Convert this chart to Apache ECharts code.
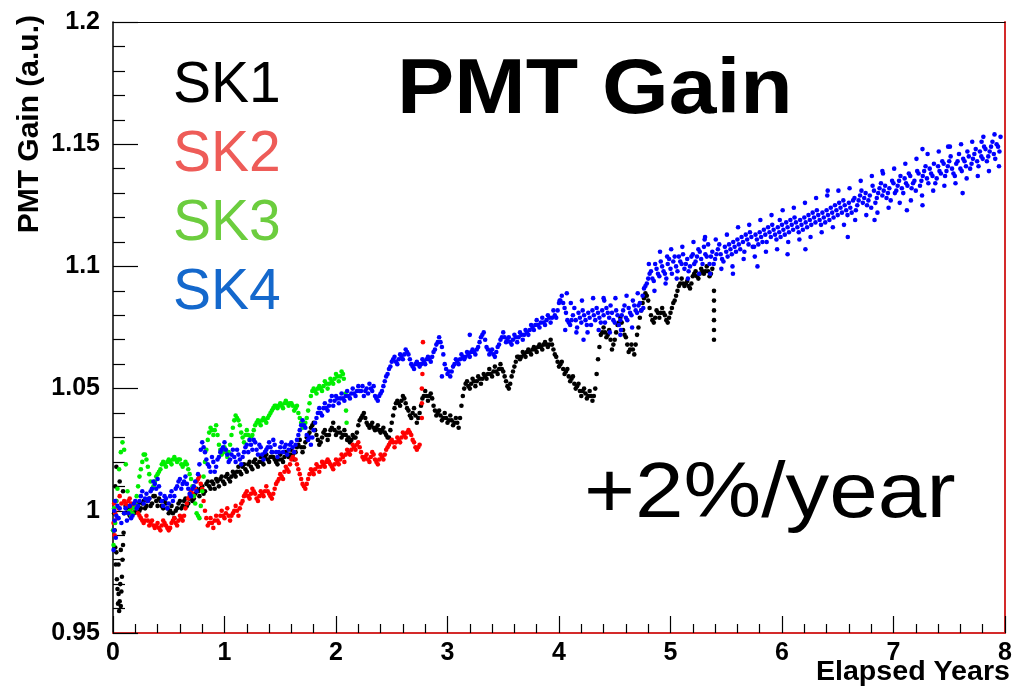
<!DOCTYPE html>
<html>
<head>
<meta charset="utf-8">
<script src="https://cdn.jsdelivr.net/npm/echarts@6/dist/echarts.min.js"></script>
<style>html,body{margin:0;padding:0;background:#fff}#c{width:1017px;height:695px}</style>
</head>
<body>
<div id="c"></div>
<script>
// ---- data (x = elapsed years, y = relative PMT gain) ----
const seriesNames = ['SK1', 'SK2', 'SK3', 'SK4'];
const yTickLabels = ['0.95', '1', '1.05', '1.1', '1.15', '1.2'];
const xTickLabels = ['0', '1', '2', '3', '4', '5', '6', '7', '8'];

const sk1 = [
[0.010,0.999],[0.015,0.992],[0.020,0.985],[0.025,0.978],[0.030,0.983],[0.035,0.972],[0.040,0.968],[0.045,0.962],[0.050,0.966],[0.055,0.959],[0.060,0.963],[0.065,0.970],[0.070,0.961],[0.075,0.967],[0.080,0.973],[0.085,0.980],[0.090,0.986],[0.095,0.991],[0.030,1.018],[0.060,1.012],[0.090,1.008],[0.020,1.010],[0.050,0.978],[0.070,0.984],
[0.100,0.999],[0.125,1.001],[0.150,0.998],[0.175,1.002],[0.200,1.000],[0.225,1.003],[0.250,1.001],[0.275,1.004],[0.300,1.002],[0.325,1.005],[0.350,1.003],[0.375,1.006],[0.400,1.002],[0.425,1.004],[0.450,1.001],[0.475,1.003],[0.500,0.999],[0.525,1.002],[0.550,0.997],[0.575,1.001],[0.600,1.004],[0.625,1.002],[0.650,1.005],[0.675,1.003],[0.700,1.007],[0.725,1.005],[0.750,1.009],[0.775,1.006],[0.800,1.010],[0.825,1.008],[0.850,1.012],[0.875,1.009],[0.900,1.011],[0.925,1.013],[0.950,1.010],[0.975,1.014],
[1.000,1.011],[1.025,1.015],[1.050,1.012],[1.075,1.016],[1.100,1.014],[1.125,1.018],[1.150,1.015],[1.175,1.019],[1.200,1.016],[1.225,1.020],[1.250,1.017],[1.275,1.021],[1.300,1.018],[1.325,1.022],[1.350,1.019],[1.375,1.023],[1.400,1.020],[1.425,1.024],[1.450,1.021],[1.475,1.019],[1.500,1.023],[1.525,1.020],[1.550,1.024],[1.575,1.022],[1.600,1.025],[1.625,1.021],[1.650,1.026],[1.675,1.029],[1.700,1.024],[1.725,1.028],[1.750,1.031],[1.775,1.034],[1.800,1.036],[1.825,1.031],[1.850,1.027],[1.875,1.030],[1.900,1.033],[1.925,1.029],[1.950,1.033],[1.975,1.036],
[2.000,1.031],[2.025,1.034],[2.050,1.030],[2.075,1.033],[2.100,1.029],[2.125,1.028],[2.150,1.031],[2.175,1.030],[2.200,1.035],[2.225,1.038],[2.250,1.040],[2.275,1.036],[2.300,1.034],[2.325,1.036],[2.350,1.033],[2.375,1.035],[2.400,1.032],[2.425,1.034],[2.450,1.031],[2.475,1.030],[2.500,1.036],[2.525,1.042],[2.550,1.045],[2.575,1.043],[2.600,1.047],[2.625,1.044],[2.650,1.041],[2.675,1.038],[2.700,1.042],[2.725,1.036],[2.750,1.040],[2.775,1.046],[2.800,1.049],[2.825,1.045],[2.850,1.048],[2.875,1.043],[2.900,1.039],[2.925,1.041],[2.950,1.037],[2.975,1.040],
[3.000,1.036],[3.025,1.039],[3.050,1.035],[3.075,1.038],[3.100,1.034],[3.125,1.043],[3.150,1.050],[3.175,1.053],[3.200,1.050],[3.225,1.054],[3.250,1.051],[3.275,1.055],[3.300,1.052],[3.325,1.056],[3.350,1.054],[3.375,1.058],[3.400,1.055],[3.425,1.059],[3.450,1.056],[3.475,1.060],[3.500,1.057],[3.525,1.053],[3.550,1.050],[3.575,1.055],[3.600,1.059],[3.625,1.063],[3.650,1.062],[3.675,1.065],[3.700,1.063],[3.725,1.066],[3.750,1.064],[3.775,1.067],[3.800,1.065],[3.825,1.068],[3.850,1.066],[3.875,1.069],[3.900,1.067],[3.925,1.070],[3.950,1.066],[3.975,1.063],
[4.000,1.059],[4.025,1.061],[4.050,1.056],[4.075,1.058],[4.100,1.053],[4.125,1.055],[4.150,1.050],[4.175,1.052],[4.200,1.047],[4.225,1.050],[4.250,1.046],[4.275,1.049],[4.300,1.045],[4.325,1.050],[4.350,1.062],[4.375,1.072],[4.400,1.075],[4.425,1.071],[4.450,1.074],[4.475,1.066],[4.500,1.070],[4.525,1.076],[4.550,1.079],[4.575,1.074],[4.600,1.071],[4.625,1.065],[4.650,1.068],[4.675,1.064],[4.700,1.072],[4.725,1.079],[4.750,1.085],[4.775,1.089],[4.800,1.086],[4.825,1.080],[4.850,1.077],[4.875,1.082],[4.900,1.079],[4.925,1.083],[4.950,1.080],[4.975,1.077],
[5.000,1.081],[5.025,1.085],[5.050,1.088],[5.075,1.092],[5.100,1.095],[5.125,1.092],[5.150,1.094],[5.175,1.091],[5.200,1.096],[5.225,1.098],[5.250,1.095],[5.275,1.099],[5.300,1.097],[5.325,1.100],[5.350,1.096],[5.375,1.099],
[5.390,1.090],[5.390,1.086],[5.390,1.082],[5.390,1.078],[5.390,1.074],[5.390,1.070]
];
const sk1b = [
[0.1125,1.002],[0.1375,0.999],[0.1625,1.001],[0.1875,0.999],[0.2125,1.002],[0.2375,1.000],[0.2625,1.003],[0.2875,1.001],[0.3125,1.004],[0.3375,1.002],[0.3625,1.006],[0.3875,1.004],[0.4125,1.005],[0.4375,1.002],[0.4625,1.004],[0.4875,1.001],[0.5125,1.000],[0.5375,0.999],[0.5625,1.000],[0.5875,1.003],[0.6125,1.001],[0.6375,1.004],[0.6625,1.002],[0.6875,1.005],[0.7125,1.004],[0.7375,1.007],[0.7625,1.008],[0.7875,1.009],[0.8125,1.007],[0.8375,1.011],[0.8625,1.010],[0.8875,1.012],[0.9125,1.009],[0.9375,1.012],[0.9625,1.013],[0.9875,1.012],
[1.0125,1.014],[1.0375,1.013],[1.0625,1.014],[1.0875,1.015],[1.1125,1.016],[1.1375,1.016],[1.1625,1.018],[1.1875,1.017],[1.2125,1.019],[1.2375,1.018],[1.2625,1.020],[1.2875,1.019],[1.3125,1.020],[1.3375,1.020],[1.3625,1.022],[1.3875,1.021],[1.4125,1.022],[1.4375,1.022],[1.4625,1.020],[1.4875,1.021],[1.5125,1.021],[1.5375,1.022],[1.5625,1.023],[1.5875,1.023],[1.6125,1.023],[1.6375,1.024],[1.6625,1.027],[1.6875,1.026],[1.7125,1.026],[1.7375,1.030],[1.7625,1.032],[1.7875,1.035],[1.8125,1.033],[1.8375,1.029],[1.8625,1.028],[1.8875,1.032],[1.9125,1.031],[1.9375,1.031],[1.9625,1.034],[1.9875,1.033],
[2.0125,1.032],[2.0375,1.032],[2.0625,1.031],[2.0875,1.031],[2.1125,1.030],[2.1375,1.029],[2.1625,1.030],[2.1875,1.032],[2.2125,1.037],[2.2375,1.039],[2.2625,1.038],[2.2875,1.035],[2.3125,1.035],[2.3375,1.034],[2.3625,1.034],[2.3875,1.033],[2.4125,1.033],[2.4375,1.032],[2.4625,1.030],[2.4875,1.033],[2.5125,1.039],[2.5375,1.044],[2.5625,1.044],[2.5875,1.045],[2.6125,1.046],[2.6375,1.042],[2.6625,1.039],[2.6875,1.040],[2.7125,1.039],[2.7375,1.038],[2.7625,1.043],[2.7875,1.047],[2.8125,1.047],[2.8375,1.047],[2.8625,1.046],[2.8875,1.041],[2.9125,1.040],[2.9375,1.039],[2.9625,1.038],[2.9875,1.038],
[3.0125,1.037],[3.0375,1.037],[3.0625,1.036],[3.0875,1.036],[3.1125,1.038],[3.1375,1.047],[3.1625,1.052],[3.1875,1.051],[3.2125,1.052],[3.2375,1.053],[3.2625,1.053],[3.2875,1.054],[3.3125,1.054],[3.3375,1.055],[3.3625,1.056],[3.3875,1.056],[3.4125,1.057],[3.4375,1.057],[3.4625,1.058],[3.4875,1.058],[3.5125,1.055],[3.5375,1.051],[3.5625,1.052],[3.5875,1.057],[3.6125,1.061],[3.6375,1.063],[3.6625,1.063],[3.6875,1.064],[3.7125,1.065],[3.7375,1.065],[3.7625,1.066],[3.7875,1.066],[3.8125,1.067],[3.8375,1.067],[3.8625,1.068],[3.8875,1.068],[3.9125,1.068],[3.9375,1.068],[3.9625,1.064],[3.9875,1.061],
[4.0125,1.060],[4.0375,1.058],[4.0625,1.057],[4.0875,1.055],[4.1125,1.054],[4.1375,1.052],[4.1625,1.051],[4.1875,1.049],[4.2125,1.049],[4.2375,1.048],[4.2625,1.047],[4.2875,1.047],[4.3125,1.047],[4.3375,1.056],[4.3625,1.067],[4.3875,1.073],[4.4125,1.073],[4.4375,1.072],[4.4625,1.070],[4.4875,1.068],[4.5125,1.073],[4.5375,1.077],[4.5625,1.077],[4.5875,1.072],[4.6125,1.068],[4.6375,1.066],[4.6625,1.066],[4.6875,1.068],[4.7125,1.075],[4.7375,1.082],[4.7625,1.087],[4.7875,1.088],[4.8125,1.083],[4.8375,1.078],[4.8625,1.079],[4.8875,1.081],[4.9125,1.081],[4.9375,1.081],[4.9625,1.078],[4.9875,1.079],
[5.0125,1.083],[5.0375,1.086],[5.0625,1.090],[5.0875,1.093],[5.1125,1.093],[5.1375,1.093],[5.1625,1.092],[5.1875,1.093],[5.2125,1.097],[5.2375,1.096],[5.2625,1.097],[5.2875,1.098],[5.3125,1.098],[5.3375,1.098],[5.3625,1.097]
];

const sk2 = [
[0.005,0.995],[0.010,1.003],[0.015,0.990],[0.020,0.999],[0.030,1.004],[0.040,0.997],[0.050,1.001],[0.060,1.006],[0.075,1.003],
[0.100,1.004],[0.125,1.002],[0.150,1.005],[0.175,1.001],[0.200,1.003],[0.225,0.999],[0.250,0.997],[0.275,0.995],[0.300,0.998],[0.325,0.994],[0.350,0.996],[0.375,0.993],[0.400,0.995],[0.425,0.992],[0.450,0.996],[0.475,0.994],[0.500,0.992],[0.525,0.995],[0.550,0.997],[0.575,0.994],[0.600,0.998],[0.625,0.996],[0.650,1.001],[0.675,1.005],[0.700,1.008],[0.725,1.006],[0.750,1.012],[0.775,1.014],[0.800,1.009],[0.825,1.000],[0.850,0.994],[0.875,0.997],[0.900,0.993],[0.925,0.998],[0.950,0.995],[0.975,1.000],
[1.000,0.997],[1.025,1.001],[1.050,0.996],[1.075,0.999],[1.100,1.002],[1.125,0.998],[1.150,1.003],[1.175,1.006],[1.200,1.008],[1.225,1.005],[1.250,1.009],[1.275,1.007],[1.300,1.004],[1.325,1.008],[1.350,1.006],[1.375,1.010],[1.400,1.007],[1.425,1.005],[1.450,1.009],[1.475,1.012],[1.500,1.015],[1.525,1.013],[1.550,1.018],[1.575,1.016],[1.600,1.021],[1.625,1.024],[1.650,1.019],[1.675,1.015],[1.700,1.011],[1.725,1.009],[1.750,1.013],[1.775,1.017],[1.800,1.015],[1.825,1.019],[1.850,1.016],[1.875,1.020],[1.900,1.018],[1.925,1.021],[1.950,1.019],[1.975,1.017],
[2.000,1.021],[2.025,1.019],[2.050,1.023],[2.075,1.020],[2.100,1.025],[2.125,1.023],[2.150,1.027],[2.175,1.025],[2.200,1.028],[2.225,1.024],[2.250,1.021],[2.275,1.023],[2.300,1.020],[2.325,1.024],[2.350,1.021],[2.375,1.019],[2.400,1.023],[2.425,1.021],[2.450,1.025],[2.475,1.027],[2.500,1.029],[2.525,1.026],[2.550,1.030],[2.575,1.028],[2.600,1.032],[2.625,1.030],[2.650,1.033],[2.675,1.031],[2.700,1.028],[2.725,1.025],[2.750,1.027],
[2.770,1.038],[2.770,1.044],[2.770,1.050],[2.775,1.056],[2.780,1.069]
];
const sk2b = [
[0.1125,1.003],[0.1375,1.004],[0.1625,1.003],[0.1875,1.002],[0.2125,1.001],[0.2375,0.998],[0.2625,0.996],[0.2875,0.996],[0.3125,0.996],[0.3375,0.995],[0.3625,0.994],[0.3875,0.994],[0.4125,0.993],[0.4375,0.994],[0.4625,0.995],[0.4875,0.993],[0.5125,0.993],[0.5375,0.996],[0.5625,0.995],[0.5875,0.996],[0.6125,0.997],[0.6375,0.998],[0.6625,1.003],[0.6875,1.006],[0.7125,1.007],[0.7375,1.009],[0.7625,1.013],[0.7875,1.011],[0.8125,1.004],[0.8375,0.997],[0.8625,0.995],[0.8875,0.995],[0.9125,0.996],[0.9375,0.996],[0.9625,0.998],[0.9875,0.998],
[1.0125,0.999],[1.0375,0.998],[1.0625,0.998],[1.0875,1.000],[1.1125,1.000],[1.1375,1.001],[1.1625,1.004],[1.1875,1.007],[1.2125,1.006],[1.2375,1.007],[1.2625,1.008],[1.2875,1.005],[1.3125,1.006],[1.3375,1.007],[1.3625,1.008],[1.3875,1.008],[1.4125,1.006],[1.4375,1.007],[1.4625,1.011],[1.4875,1.013],[1.5125,1.014],[1.5375,1.016],[1.5625,1.017],[1.5875,1.019],[1.6125,1.022],[1.6375,1.021],[1.6625,1.017],[1.6875,1.013],[1.7125,1.010],[1.7375,1.011],[1.7625,1.015],[1.7875,1.016],[1.8125,1.017],[1.8375,1.018],[1.8625,1.018],[1.8875,1.019],[1.9125,1.020],[1.9375,1.020],[1.9625,1.018],[1.9875,1.019],
[2.0125,1.020],[2.0375,1.021],[2.0625,1.022],[2.0875,1.023],[2.1125,1.024],[2.1375,1.025],[2.1625,1.026],[2.1875,1.027],[2.2125,1.026],[2.2375,1.022],[2.2625,1.022],[2.2875,1.021],[2.3125,1.022],[2.3375,1.023],[2.3625,1.020],[2.3875,1.021],[2.4125,1.022],[2.4375,1.023],[2.4625,1.026],[2.4875,1.028],[2.5125,1.028],[2.5375,1.028],[2.5625,1.029],[2.5875,1.030],[2.6125,1.031],[2.6375,1.032],[2.6625,1.032],[2.6875,1.029],[2.7125,1.026],[2.7375,1.026]
];

const sk3 = [
[0.000,0.992],[0.005,0.986],[0.010,1.001],[0.020,0.995],[0.030,1.004],[0.040,1.009],[0.055,1.017],[0.070,1.024],[0.085,1.028],[0.100,1.025],[0.115,1.019],[0.130,1.008],[0.150,1.000],[0.175,0.999],[0.200,1.003],[0.225,1.010],[0.250,1.017],[0.275,1.023],[0.300,1.021],[0.325,1.015],[0.350,1.009],[0.375,1.012],[0.400,1.015],[0.425,1.017],[0.450,1.020],[0.475,1.018],[0.500,1.021],[0.525,1.019],[0.550,1.022],[0.575,1.020],[0.600,1.021],[0.625,1.018],[0.650,1.020],[0.675,1.017],[0.700,1.013],[0.725,1.006],[0.750,0.999],[0.775,0.997],[0.800,1.008],[0.825,1.020],[0.850,1.029],[0.875,1.034],[0.900,1.031],[0.925,1.035],[0.950,1.027],[0.975,1.023],
[1.000,1.026],[1.025,1.022],[1.050,1.027],[1.075,1.034],[1.100,1.039],[1.125,1.037],[1.150,1.032],[1.175,1.028],[1.200,1.033],[1.225,1.029],[1.250,1.031],[1.275,1.035],[1.300,1.037],[1.325,1.035],[1.350,1.038],[1.375,1.036],[1.400,1.039],[1.425,1.041],[1.450,1.043],[1.475,1.042],[1.500,1.044],[1.525,1.042],[1.550,1.045],[1.575,1.043],[1.600,1.044],[1.625,1.041],[1.650,1.043],[1.675,1.038],[1.700,1.034],[1.725,1.036],[1.750,1.041],[1.775,1.047],[1.800,1.050],[1.825,1.048],[1.850,1.051],[1.875,1.049],[1.900,1.053],[1.925,1.050],[1.950,1.054],[1.975,1.052],
[2.000,1.056],[2.025,1.053],[2.050,1.057],[2.070,1.054],[2.085,1.048],[2.090,1.041],[2.095,1.036]
];
const sk3b = [
[0.1625,0.998],[0.1875,1.001],[0.2125,1.006],[0.2375,1.014],[0.2625,1.020],[0.2875,1.023],[0.3125,1.018],[0.3375,1.012],[0.3625,1.010],[0.3875,1.014],[0.4125,1.016],[0.4375,1.019],[0.4625,1.019],[0.4875,1.020],[0.5125,1.020],[0.5375,1.021],[0.5625,1.021],[0.5875,1.021],[0.6125,1.019],[0.6375,1.019],[0.6625,1.019],[0.6875,1.015],[0.7125,1.010],[0.7375,1.003],[0.7625,0.998],[0.7875,1.002],[0.8125,1.014],[0.8375,1.025],[0.8625,1.032],[0.8875,1.033],[0.9125,1.033],[0.9375,1.031],[0.9625,1.025],[0.9875,1.024],
[1.0125,1.024],[1.0375,1.024],[1.0625,1.031],[1.0875,1.037],[1.1125,1.038],[1.1375,1.035],[1.1625,1.030],[1.1875,1.031],[1.2125,1.031],[1.2375,1.030],[1.2625,1.033],[1.2875,1.036],[1.3125,1.036],[1.3375,1.037],[1.3625,1.037],[1.3875,1.038],[1.4125,1.040],[1.4375,1.042],[1.4625,1.043],[1.4875,1.043],[1.5125,1.043],[1.5375,1.044],[1.5625,1.044],[1.5875,1.044],[1.6125,1.043],[1.6375,1.042],[1.6625,1.040],[1.6875,1.036],[1.7125,1.035],[1.7375,1.038],[1.7625,1.044],[1.7875,1.049],[1.8125,1.049],[1.8375,1.050],[1.8625,1.050],[1.8875,1.051],[1.9125,1.052],[1.9375,1.052],[1.9625,1.053],[1.9875,1.054],
[2.0125,1.055],[2.0375,1.055],[2.0625,1.056]
];

const sk4 = [
[0.005,0.984],[0.010,0.992],[0.012,1.000],[0.015,0.996],[0.020,1.004],[0.025,0.989],[0.030,0.998],[0.040,1.002],[0.050,0.997],[0.060,1.001],[0.075,0.995],
[0.100,0.999],[0.125,0.996],[0.150,1.002],[0.175,0.998],[0.200,1.004],[0.225,1.002],[0.250,1.006],[0.275,1.003],[0.300,1.007],[0.325,1.005],[0.350,1.009],[0.375,1.011],[0.400,1.013],[0.425,1.007],[0.450,1.002],[0.475,1.005],[0.500,1.003],[0.525,1.008],[0.550,1.006],[0.575,1.010],[0.600,1.013],[0.625,1.011],[0.650,1.014],[0.675,1.009],[0.700,1.006],[0.725,1.010],[0.750,1.008],[0.775,1.019],[0.800,1.028],[0.825,1.024],[0.850,1.019],[0.875,1.016],[0.900,1.020],[0.925,1.018],[0.950,1.022],[0.975,1.025],
[1.000,1.028],[1.025,1.023],[1.050,1.021],[1.075,1.025],[1.100,1.020],[1.125,1.023],[1.150,1.019],[1.175,1.024],[1.200,1.027],[1.225,1.029],[1.250,1.025],[1.275,1.028],[1.300,1.023],[1.325,1.026],[1.350,1.021],[1.375,1.025],[1.400,1.028],[1.425,1.024],[1.450,1.027],[1.475,1.022],[1.500,1.026],[1.525,1.024],[1.550,1.027],[1.575,1.025],[1.600,1.028],[1.625,1.024],[1.650,1.029],[1.675,1.033],[1.700,1.037],[1.725,1.034],[1.750,1.029],[1.775,1.027],[1.800,1.033],[1.825,1.038],[1.850,1.042],[1.875,1.039],[1.900,1.044],[1.925,1.041],[1.950,1.045],[1.975,1.043],
[2.000,1.047],[2.025,1.044],[2.050,1.048],[2.075,1.045],[2.100,1.049],[2.125,1.046],[2.150,1.050],[2.175,1.047],[2.200,1.051],[2.225,1.049],[2.250,1.047],[2.275,1.050],[2.300,1.052],[2.325,1.049],[2.350,1.047],[2.375,1.045],[2.400,1.048],[2.425,1.051],[2.450,1.055],[2.475,1.058],[2.500,1.061],[2.525,1.063],[2.550,1.060],[2.575,1.064],[2.600,1.062],[2.625,1.066],[2.650,1.064],[2.675,1.060],[2.700,1.058],[2.725,1.061],[2.750,1.059],[2.775,1.062],[2.800,1.060],[2.825,1.063],[2.850,1.061],[2.875,1.065],[2.900,1.068],[2.925,1.071],[2.950,1.067],[2.975,1.060],
[3.000,1.056],[3.025,1.055],[3.050,1.059],[3.075,1.062],[3.100,1.060],[3.125,1.064],[3.150,1.062],[3.175,1.065],[3.200,1.063],[3.225,1.066],[3.250,1.064],[3.275,1.067],[3.300,1.071],[3.325,1.073],[3.350,1.067],[3.375,1.064],[3.400,1.066],[3.425,1.063],[3.450,1.067],[3.475,1.070],[3.500,1.073],[3.525,1.069],[3.550,1.071],[3.575,1.068],[3.600,1.072],[3.625,1.069],[3.650,1.073],[3.675,1.070],[3.700,1.074],[3.725,1.072],[3.750,1.076],[3.775,1.074],[3.800,1.078],[3.825,1.075],[3.850,1.079],[3.875,1.076],[3.900,1.080],[3.925,1.077],[3.950,1.082],[3.975,1.079],
[4.000,1.085],[4.025,1.088],[4.050,1.083],[4.075,1.078],[4.100,1.076],[4.125,1.080],[4.150,1.078],[4.175,1.081],[4.200,1.077],[4.225,1.080],[4.250,1.076],[4.275,1.079],[4.300,1.082],[4.325,1.078],[4.350,1.081],[4.375,1.077],[4.400,1.080],[4.425,1.083],[4.450,1.079],[4.475,1.081],[4.500,1.077],[4.525,1.080],[4.550,1.078],[4.575,1.082],[4.600,1.079],[4.625,1.083],[4.650,1.080],[4.675,1.084],[4.700,1.081],[4.725,1.085],[4.750,1.088],[4.775,1.092],[4.800,1.095],[4.825,1.098],[4.850,1.094],[4.875,1.099],[4.900,1.096],[4.925,1.100],[4.950,1.097],[4.975,1.101],
[5.000,1.099],[5.025,1.102],[5.050,1.100],[5.075,1.104],[5.100,1.101],[5.125,1.099],[5.150,1.103],[5.175,1.100],[5.200,1.105],[5.225,1.102],[5.250,1.107],[5.275,1.103],[5.300,1.108],[5.325,1.104],[5.350,1.101],[5.375,1.106],[5.400,1.103],[5.425,1.107],[5.450,1.105],[5.475,1.102],[5.500,1.106],[5.525,1.109],[5.550,1.105],[5.575,1.108],[5.600,1.111],[5.625,1.107],[5.650,1.110],[5.675,1.113],[5.700,1.109],[5.725,1.112],[5.750,1.108],[5.775,1.111],[5.800,1.114],[5.825,1.110],[5.850,1.113],[5.875,1.116],[5.900,1.112],[5.925,1.115],[5.950,1.111],[5.975,1.114],
[6.000,1.117],[6.025,1.113],[6.050,1.116],[6.075,1.119],[6.100,1.115],[6.125,1.118],[6.150,1.114],[6.175,1.117],[6.200,1.120],[6.225,1.116],[6.250,1.119],[6.275,1.122],[6.300,1.118],[6.325,1.121],[6.350,1.117],[6.375,1.120],[6.400,1.123],[6.425,1.119],[6.450,1.122],[6.475,1.125],[6.500,1.121],[6.525,1.124],[6.550,1.127],[6.575,1.123],[6.600,1.126],[6.625,1.122],[6.650,1.128],[6.675,1.125],[6.700,1.129],[6.725,1.126],[6.750,1.130],[6.775,1.127],[6.800,1.124],[6.825,1.131],[6.850,1.128],[6.875,1.132],[6.900,1.129],[6.925,1.133],[6.950,1.130],[6.975,1.127],
[7.000,1.134],[7.025,1.131],[7.050,1.135],[7.075,1.132],[7.100,1.136],[7.125,1.133],[7.150,1.137],[7.175,1.134],[7.200,1.131],[7.225,1.138],[7.250,1.135],[7.275,1.139],[7.300,1.136],[7.325,1.140],[7.350,1.137],[7.375,1.134],[7.400,1.141],[7.425,1.138],[7.450,1.142],[7.475,1.139],[7.500,1.143],[7.525,1.140],[7.550,1.137],[7.575,1.143],[7.600,1.140],[7.625,1.144],[7.650,1.141],[7.675,1.145],[7.700,1.142],[7.725,1.146],[7.750,1.143],[7.775,1.147],[7.800,1.144],[7.825,1.148],[7.850,1.145],[7.875,1.149],[7.900,1.146],[7.925,1.150],[7.950,1.147],
[4.07,1.089],[4.22,1.070],[4.97,1.104],[5.31,1.112],[5.78,1.100],[5.56,1.097],[5.98,1.119],[6.05,1.105],[6.21,1.107],[6.59,1.112],[6.41,1.131],[6.90,1.139],[7.26,1.148],[7.49,1.149],[7.79,1.151],[7.96,1.153],[7.62,1.130],[7.26,1.125],[7.12,1.123],[6.83,1.119],[3.20,1.072],[2.95,1.055],[4.55,1.072],[4.40,1.087]
];
const sk4b = [
[0.1125,1.001],[0.1375,0.999],[0.1625,0.997],[0.1875,1.003],[0.2125,1.001],[0.2375,1.004],[0.2625,1.008],[0.2875,1.005],[0.3125,1.004],[0.3375,1.008],[0.3625,1.012],[0.3875,1.009],[0.4125,1.010],[0.4375,1.004],[0.4625,1.006],[0.4875,1.001],[0.5125,1.006],[0.5375,1.004],[0.5625,1.009],[0.5875,1.012],[0.6125,1.009],[0.6375,1.012],[0.6625,1.011],[0.6875,1.007],[0.7125,1.009],[0.7375,1.012],[0.7625,1.015],[0.7875,1.025],[0.8125,1.026],[0.8375,1.021],[0.8625,1.018],[0.8875,1.022],[0.9125,1.016],[0.9375,1.021],[0.9625,1.024],[0.9875,1.026],
[1.0125,1.025],[1.0375,1.020],[1.0625,1.023],[1.0875,1.022],[1.1125,1.025],[1.1375,1.021],[1.1625,1.022],[1.1875,1.026],[1.2125,1.024],[1.2375,1.027],[1.2625,1.029],[1.2875,1.025],[1.3125,1.027],[1.3375,1.023],[1.3625,1.024],[1.3875,1.026],[1.4125,1.026],[1.4375,1.029],[1.4625,1.024],[1.4875,1.024],[1.5125,1.028],[1.5375,1.026],[1.5625,1.023],[1.5875,1.027],[1.6125,1.026],[1.6375,1.027],[1.6625,1.031],[1.6875,1.035],[1.7125,1.035],[1.7375,1.031],[1.7625,1.030],[1.7875,1.030],[1.8125,1.036],[1.8375,1.040],[1.8625,1.040],[1.8875,1.042],[1.9125,1.042],[1.9375,1.043],[1.9625,1.047],[1.9875,1.045],
[2.0125,1.046],[2.0375,1.046],[2.0625,1.046],[2.0875,1.047],[2.1125,1.047],[2.1375,1.048],[2.1625,1.048],[2.1875,1.049],[2.2125,1.049],[2.2375,1.051],[2.2625,1.049],[2.2875,1.048],[2.3125,1.050],[2.3375,1.051],[2.3625,1.046],[2.3875,1.047],[2.4125,1.049],[2.4375,1.053],[2.4625,1.056],[2.4875,1.059],[2.5125,1.062],[2.5375,1.061],[2.5625,1.062],[2.5875,1.063],[2.6125,1.064],[2.6375,1.065],[2.6625,1.062],[2.6875,1.059],[2.7125,1.060],[2.7375,1.060],[2.7625,1.060],[2.7875,1.061],[2.8125,1.062],[2.8375,1.062],[2.8625,1.063],[2.8875,1.066],[2.9125,1.069],[2.9375,1.069],[2.9625,1.064],[2.9875,1.058],
[3.0125,1.057],[3.0375,1.057],[3.0625,1.060],[3.0875,1.061],[3.1125,1.062],[3.1375,1.063],[3.1625,1.063],[3.1875,1.064],[3.2125,1.065],[3.2375,1.065],[3.2625,1.066],[3.2875,1.069],[3.3125,1.072],[3.3375,1.070],[3.3625,1.066],[3.3875,1.065],[3.4125,1.064],[3.4375,1.065],[3.4625,1.068],[3.4875,1.071],[3.5125,1.071],[3.5375,1.070],[3.5625,1.069],[3.5875,1.070],[3.6125,1.071],[3.6375,1.071],[3.6625,1.072],[3.6875,1.072],[3.7125,1.073],[3.7375,1.074],[3.7625,1.075],[3.7875,1.076],[3.8125,1.076],[3.8375,1.077],[3.8625,1.077],[3.8875,1.078],[3.9125,1.079],[3.9375,1.079],[3.9625,1.080],[3.9875,1.082],
[4.0125,1.086],[4.0375,1.085],[4.0625,1.081],[4.0875,1.077],[4.1125,1.078],[4.1375,1.083],[4.1625,1.075],[4.1875,1.079],[4.2125,1.082],[4.2375,1.078],[4.2625,1.081],[4.2875,1.076],[4.3125,1.080],[4.3375,1.083],[4.3625,1.079],[4.3875,1.082],[4.4125,1.077],[4.4375,1.081],[4.4625,1.084],[4.4875,1.078],[4.5125,1.082],[4.5375,1.076],[4.5625,1.080],[4.5875,1.084],[4.6125,1.078],[4.6375,1.081],[4.6625,1.086],[4.6875,1.082],[4.7125,1.084],[4.7375,1.082],[4.7625,1.091],[4.7875,1.093],[4.8125,1.097],[4.8375,1.095],[4.8625,1.101],[4.8875,1.097],[4.9125,1.102],[4.9375,1.098],[4.9625,1.095],[4.9875,1.103],
[5.0125,1.097],[5.0375,1.104],[5.0625,1.098],[5.0875,1.102],[5.1125,1.105],[5.1375,1.101],[5.1625,1.098],[5.1875,1.104],[5.2125,1.101],[5.2375,1.104],[5.2625,1.106],[5.2875,1.101],[5.3125,1.105],[5.3375,1.109],[5.3625,1.104],[5.3875,1.101],[5.4125,1.105],[5.4375,1.109],[5.4625,1.103],[5.4875,1.108],[5.5125,1.104],[5.5375,1.107],[5.5625,1.110],[5.5875,1.106],[5.6125,1.109],[5.6375,1.112],[5.6625,1.106],[5.6875,1.111],[5.7125,1.114],[5.7375,1.108],[5.7625,1.113],[5.7875,1.109],[5.8125,1.112],[5.8375,1.115],[5.8625,1.110],[5.8875,1.114],[5.9125,1.117],[5.9375,1.113],[5.9625,1.116],[5.9875,1.112],
[6.0125,1.115],[6.0375,1.118],[6.0625,1.114],[6.0875,1.117],[6.1125,1.120],[6.1375,1.116],[6.1625,1.119],[6.1875,1.115],[6.2125,1.118],[6.2375,1.121],[6.2625,1.117],[6.2875,1.120],[6.3125,1.123],[6.3375,1.119],[6.3625,1.122],[6.3875,1.118],[6.4125,1.121],[6.4375,1.124],[6.4625,1.120],[6.4875,1.123],[6.5125,1.126],[6.5375,1.122],[6.5625,1.125],[6.5875,1.121],[6.6125,1.124],[6.6375,1.127],[6.6625,1.123],[6.6875,1.127],[6.7125,1.131],[6.7375,1.128],[6.7625,1.125],[6.7875,1.129],[6.8125,1.133],[6.8375,1.126],[6.8625,1.130],[6.8875,1.134],[6.9125,1.131],[6.9375,1.128],[6.9625,1.132],[6.9875,1.135],
[7.0125,1.130],[7.0375,1.133],[7.0625,1.137],[7.0875,1.130],[7.1125,1.134],[7.1375,1.138],[7.1625,1.132],[7.1875,1.135],[7.2125,1.139],[7.2375,1.133],[7.2625,1.137],[7.2875,1.141],[7.3125,1.134],[7.3375,1.138],[7.3625,1.142],[7.3875,1.136],[7.4125,1.139],[7.4375,1.143],[7.4625,1.137],[7.4875,1.141],[7.5125,1.145],[7.5375,1.138],[7.5625,1.142],[7.5875,1.146],[7.6125,1.139],[7.6375,1.143],[7.6625,1.147],[7.6875,1.140],[7.7125,1.144],[7.7375,1.148],[7.7625,1.141],[7.7875,1.145],[7.8125,1.149],[7.8375,1.143],[7.8625,1.147],[7.8875,1.151],[7.9125,1.144],[7.9375,1.149]
];
const sk4c = [
[4.006,1.086],[4.056,1.074],[4.106,1.085],[4.156,1.073],[4.206,1.086],[4.256,1.073],[4.306,1.087],[4.356,1.074],[4.406,1.086],[4.456,1.073],[4.506,1.087],[4.556,1.074],[4.606,1.088],[4.656,1.075],[4.706,1.089],[4.756,1.083],[4.806,1.101],[4.856,1.090],[4.906,1.106],[4.956,1.093],
[5.006,1.107],[5.056,1.095],[5.106,1.108],[5.156,1.095],[5.206,1.110],[5.256,1.097],[5.306,1.111],[5.356,1.097],[5.406,1.111],[5.456,1.099],[5.506,1.113],[5.556,1.100],[5.606,1.116],[5.656,1.103],[5.706,1.117],[5.756,1.104],[5.806,1.119],[5.856,1.106],[5.906,1.121],[5.956,1.107],
[6.006,1.123],[6.056,1.110],[6.106,1.124],[6.156,1.111],[6.206,1.126],[6.256,1.112],[6.306,1.128],[6.356,1.114],[6.406,1.129],[6.456,1.116],[6.506,1.131],[6.556,1.117],[6.606,1.132],[6.656,1.119],[6.706,1.135],[6.756,1.121],[6.806,1.137],[6.856,1.122],[6.906,1.138],[6.956,1.124],
[7.006,1.140],[7.056,1.126],[7.106,1.142],[7.156,1.127],[7.206,1.144],[7.256,1.129],[7.306,1.146],[7.356,1.131],[7.406,1.147],[7.456,1.133],[7.506,1.149],[7.556,1.134],[7.606,1.150],[7.656,1.136],[7.706,1.151],[7.756,1.137],[7.806,1.153],[7.856,1.139],[7.906,1.154],[7.946,1.141]
];

const pointColors = ['#000000', '#ff0000', '#00ee00', '#0000ff'];
const labelColors = ['#000000', '#ee5c58', '#6ccd3e', '#1468cc'];

const FONT = '"Liberation Sans", Arial, Helvetica, sans-serif';
const chart = echarts.init(document.getElementById('c'), null, {renderer: 'canvas'});

const dataSets = [sk1.concat(sk1b), sk2.concat(sk2b), sk3.concat(sk3b), sk4.concat(sk4b, sk4c)];
const option = {
  animation: false,
  backgroundColor: '#ffffff',
  grid: {left: 113, right: 12, top: 22, bottom: 62, containLabel: false},
  legend: {
    orient: 'vertical', left: 168, top: 58, padding: 0, itemGap: 12,
    itemWidth: 0, itemHeight: 0, icon: 'rect', selectedMode: false,
    textStyle: {fontSize: 57, fontFamily: FONT, fontWeight: 'normal'},
    data: seriesNames.map((n, i) => ({name: n, textStyle: {color: labelColors[i]}}))
  },
  xAxis: [
    {
      type: 'value', min: 0, max: 8, interval: 1, position: 'bottom',
      axisLine: {show: true, onZero: false, lineStyle: {color: '#d42a2a', width: 2}},
      axisTick: {show: true, inside: true, length: 17, lineStyle: {color: '#000', width: 1.2}},
      minorTick: {show: true, splitNumber: 5, length: 9, lineStyle: {color: '#000', width: 1.2}},
      splitLine: {show: false}, minorSplitLine: {show: false},
      axisLabel: {show: true, margin: 8, color: '#000', fontSize: 25, fontWeight: 'bold', fontFamily: FONT,
        formatter: v => xTickLabels[Math.round(v)]}
    },
    {
      type: 'value', min: 0, max: 8, position: 'top',
      axisLine: {show: true, onZero: false, lineStyle: {color: '#000', width: 1.2}},
      axisTick: {show: false}, axisLabel: {show: false}, splitLine: {show: false}
    }
  ],
  yAxis: [
    {
      type: 'value', min: 0.95, max: 1.2, interval: 0.05, position: 'left',
      axisLine: {show: true, onZero: false, lineStyle: {color: '#000', width: 1.5}},
      axisTick: {show: true, inside: true, length: 25, lineStyle: {color: '#000', width: 1.2}},
      minorTick: {show: true, splitNumber: 5, length: 12, lineStyle: {color: '#000', width: 1.2}},
      splitLine: {show: false}, minorSplitLine: {show: false},
      axisLabel: {show: true, margin: 13, color: '#000', fontSize: 25, fontWeight: 'bold', fontFamily: FONT,
        formatter: v => yTickLabels[Math.round((v - 0.95) / 0.05)]}
    },
    {
      type: 'value', min: 0.95, max: 1.2, position: 'right',
      axisLine: {show: true, onZero: false, lineStyle: {color: '#d42a2a', width: 2}},
      axisTick: {show: false}, axisLabel: {show: false}, splitLine: {show: false}
    }
  ],
  series: seriesNames.map((n, i) => ({
    name: n, type: 'scatter', xAxisIndex: 0, yAxisIndex: 0,
    symbol: 'circle', symbolSize: 4.6,
    itemStyle: {color: pointColors[i], opacity: 1},
    emphasis: {disabled: true},
    data: dataSets[i]
  })),
  graphic: [
    {type: 'text', x: 397, y: 91, scaleX: 1.1, silent: true,
      style: {text: 'PMT Gain', font: 'bold 78px ' + FONT, fill: '#000', align: 'left', verticalAlign: 'middle'}},
    {type: 'text', x: 584, y: 495, scaleX: 1.12, silent: true,
      style: {text: '+2%/year', font: 'normal 78px ' + FONT, fill: '#000', align: 'left', verticalAlign: 'middle'}},
    {type: 'text', x: 30, y: 15, rotation: Math.PI / 2, silent: true,
      style: {text: 'PMT Gain (a.u.)', font: 'bold 30px ' + FONT, fill: '#000', align: 'right', verticalAlign: 'middle'}},
    {type: 'text', x: 1010, y: 673, scaleX: 1.06, silent: true,
      style: {text: 'Elapsed Years', font: 'bold 27px ' + FONT, fill: '#000', align: 'right', verticalAlign: 'middle'}}
  ]
};
chart.setOption(option);
</script>
</body>
</html>
